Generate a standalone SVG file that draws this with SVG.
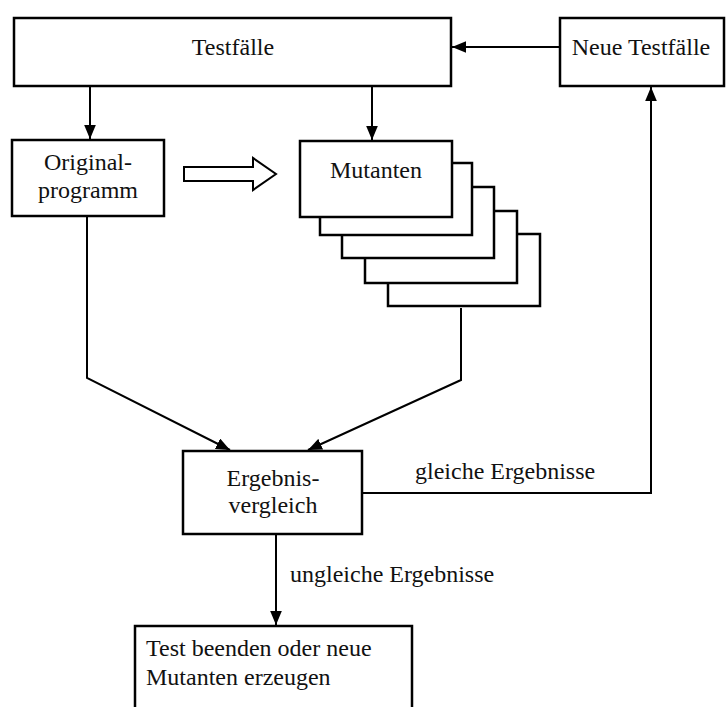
<svg xmlns="http://www.w3.org/2000/svg" width="728" height="707" viewBox="0 0 728 707">
<defs>
<style>
.box{fill:#fff;stroke:#000;stroke-width:2.5}
.line{fill:none;stroke:#000;stroke-width:2}
text{font-family:"Liberation Serif","Times New Roman",serif;font-size:24px;fill:#111}
.c{text-anchor:middle}
</style>
<marker id="ah" viewBox="0 0 12 10" refX="12" refY="5" markerWidth="14" markerHeight="12" markerUnits="userSpaceOnUse" orient="auto">
<path d="M0,0 L12,5 L0,10 Z" fill="#000"/>
</marker>
</defs>
<rect width="728" height="707" fill="#fff"/>
<g id="testfaelle">
<rect class="box" x="14" y="18" width="437" height="68"/>
<text class="c" x="233" y="55">Testfälle</text>
</g>
<g id="neue-testfaelle">
<rect class="box" x="560" y="18" width="164" height="68"/>
<text class="c" x="641" y="55">Neue Testfälle</text>
</g>
<g id="originalprogramm">
<rect class="box" x="12" y="140" width="152" height="76"/>
<text class="c" x="88" y="170">Original-</text>
<text class="c" x="88" y="198">programm</text>
</g>
<g id="transform-arrow">
<polygon points="184,167 253,167 253,158 276,174 253,190 253,181 184,181" fill="#fff" stroke="#000" stroke-width="2"/>
</g>
<g id="mutanten">
<rect class="box" x="388" y="234" width="152" height="72"/>
<rect class="box" x="365" y="211" width="152" height="72"/>
<rect class="box" x="342" y="187" width="152" height="71"/>
<rect class="box" x="320" y="163" width="152" height="72"/>
<rect class="box" x="300" y="141" width="152" height="76"/>
<text class="c" x="376" y="178">Mutanten</text>
</g>
<g id="ergebnisvergleich">
<rect class="box" x="183" y="451" width="179" height="83"/>
<text class="c" x="273" y="486">Ergebnis-</text>
<text class="c" x="273" y="513">vergleich</text>
</g>
<g id="test-beenden">
<rect class="box" x="135" y="626" width="277" height="90"/>
<text x="146" y="656">Test beenden oder neue</text>
<text x="146" y="685">Mutanten erzeugen</text>
</g>
<g id="connectors">
<line class="line" x1="560" y1="47" x2="452" y2="47" marker-end="url(#ah)"/>
<line class="line" x1="90" y1="86" x2="90" y2="139" marker-end="url(#ah)"/>
<line class="line" x1="372" y1="86" x2="372" y2="140" marker-end="url(#ah)"/>
<polyline class="line" points="87,216 87,378 230,450" marker-end="url(#ah)"/>
<polyline class="line" points="461,308 461,380 308,450" marker-end="url(#ah)"/>
<polyline class="line" points="362,493 651,493 651,87" marker-end="url(#ah)"/>
<line class="line" x1="276" y1="534" x2="276" y2="625" marker-end="url(#ah)"/>
<text x="415" y="479">gleiche Ergebnisse</text>
<text x="290" y="582">ungleiche Ergebnisse</text>
</g>
</svg>
